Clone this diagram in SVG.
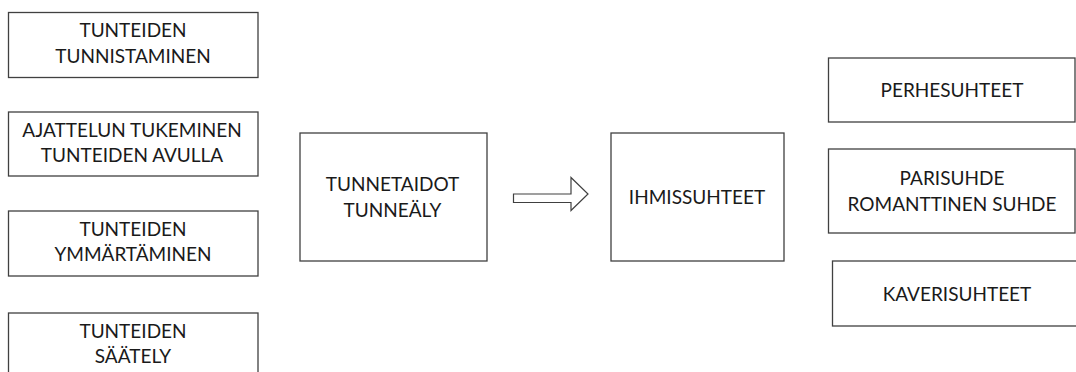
<svg xmlns="http://www.w3.org/2000/svg" width="1076" height="372" viewBox="0 0 1076 372">
<style>
.box{fill:#fff;stroke:#404040;stroke-width:1.3}
.t{font-family:Lato,"Liberation Sans",sans-serif;font-size:19px;fill:#1a1a1a;text-anchor:middle}
.arrow{fill:#fff;stroke:#404040;stroke-width:1.2}
</style>
<rect width="1076" height="372" fill="#fff"/>
<g id="n1"><rect class="box" x="8.5" y="12.5" width="249.5" height="65"/><text class="t" x="133" y="37">TUNTEIDEN</text><text class="t" x="133" y="63">TUNNISTAMINEN</text></g>
<g id="n2"><rect class="box" x="8.5" y="112" width="249.5" height="64"/><text class="t" x="132" y="136.7">AJATTELUN TUKEMINEN</text><text class="t" x="132" y="162.3">TUNTEIDEN AVULLA</text></g>
<g id="n3"><rect class="box" x="8.5" y="211" width="249.5" height="65"/><text class="t" x="133" y="235.7">TUNTEIDEN</text><text class="t" x="133" y="261.3">YMMÄRTÄMINEN</text></g>
<g id="n4"><rect class="box" x="8.5" y="313" width="249.5" height="70"/><text class="t" x="133" y="337.7">TUNTEIDEN</text><text class="t" x="133" y="363.3">SÄÄTELY</text></g>
<g id="n5"><rect class="box" x="300" y="133" width="187" height="128"/><text class="t" x="392.5" y="190.7">TUNNETAIDOT</text><text class="t" x="392.5" y="216.7">TUNNEÄLY</text></g>
<g id="n6"><rect class="box" x="611" y="133" width="173" height="128"/><text class="t" x="697" y="204">IHMISSUHTEET</text></g>
<g id="n7"><rect class="box" x="828.5" y="58" width="246.5" height="64"/><text class="t" x="952" y="97">PERHESUHTEET</text></g>
<g id="n8"><rect class="box" x="828.5" y="149" width="246.5" height="84"/><text class="t" x="952" y="185">PARISUHDE</text><text class="t" x="952" y="211">ROMANTTINEN SUHDE</text></g>
<g id="n9"><rect class="box" x="832.5" y="261" width="250" height="65"/><text class="t" x="957" y="301">KAVERISUHTEET</text></g>
<g id="connectors"><path class="arrow" d="M513.5 194 H571 V177.5 L588 194 L571 210.5 V202.5 H513.5 Z"/></g>
</svg>
